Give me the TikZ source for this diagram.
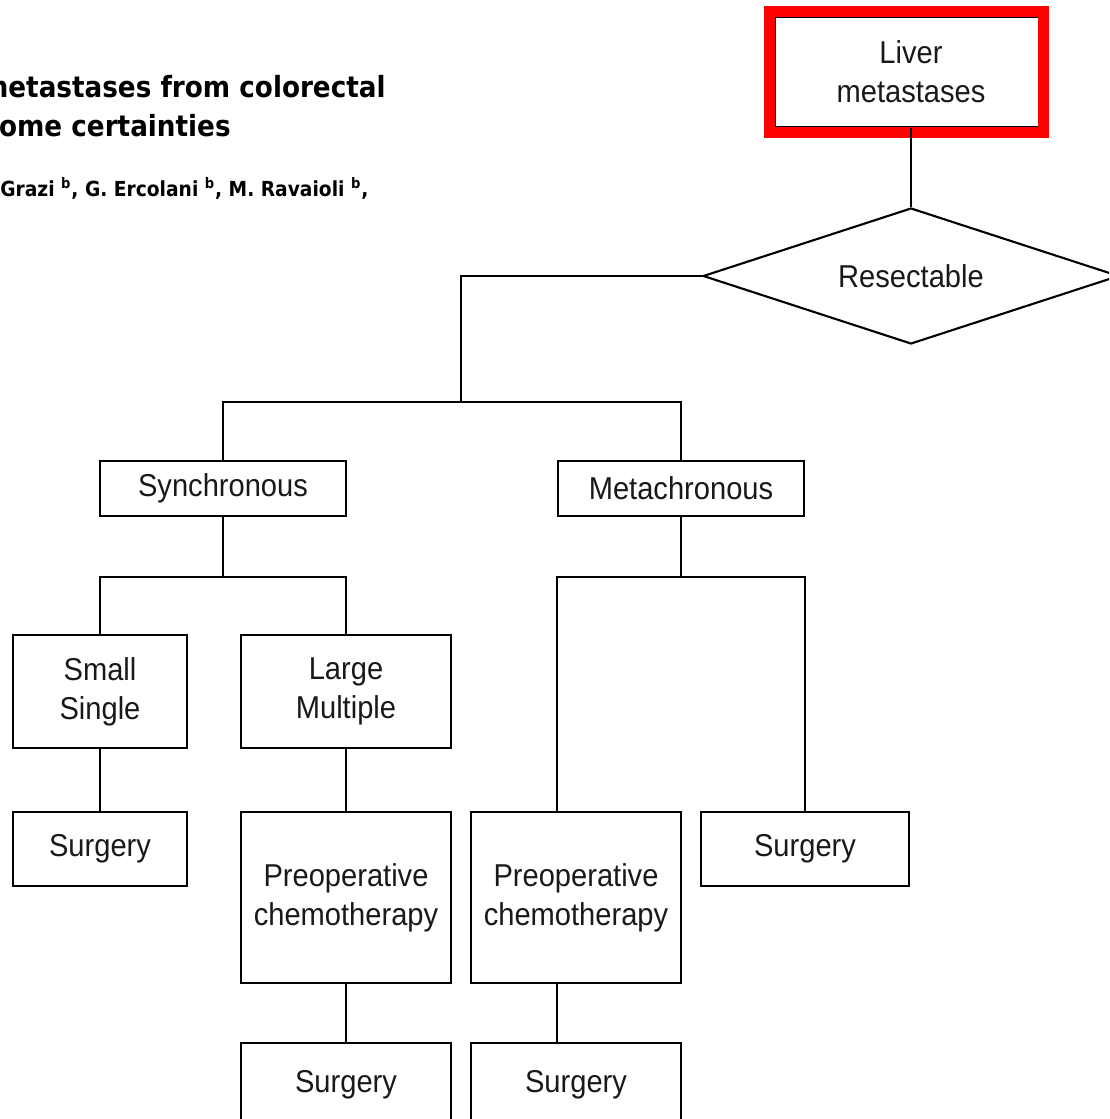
\documentclass[tikz,border=0pt]{standalone}
\usepackage{fontspec}
\newfontfamily\chartfont{Liberation Sans}[FakeStretch=0.92]
\newfontfamily\paperfont{DejaVu Sans}[FakeStretch=0.9]
\usetikzlibrary{shapes.geometric}

\begin{document}
\begin{tikzpicture}[x=0.02cm, y=-0.02cm,
  box/.style={draw, line width=1.2pt, align=center, inner sep=2pt, text=black!90, font=\chartfont\fontsize{18}{22}\selectfont},
  decision/.style={diamond, draw, line width=1.2pt, aspect=3, inner sep=0pt, minimum width=8.32cm, minimum height=2.72cm, text=black!90, font=\chartfont\fontsize{18}{22}\selectfont},
  link/.style={line width=1.2pt},
  hl/.style={draw=red, line width=0.22cm},
  ttl/.style={anchor=base east, inner sep=0pt, font=\paperfont\bfseries\fontsize{16.6}{19}\selectfont},
  auth/.style={anchor=base west, inner sep=0pt, font=\paperfont\bfseries\fontsize{11.8}{13}\selectfont}]
\useasboundingbox (0,0) rectangle (1109,1119);
\fill[white] (0,0) rectangle (1109,1119);
\clip (0,0) rectangle (1109,1119);
% paper heading, cut at the left
\node[ttl] (title1) at (386,97) {metastases from colorectal};
\node[ttl] (title2) at (231,136) {ome certainties};
\node[auth] (authors) at (0,196) {Grazi \textsuperscript{b}, G. Ercolani \textsuperscript{b}, M. Ravaioli \textsuperscript{b},};
% flow chart
\node[box, minimum width=5.44cm, minimum height=2.2cm] (liver) at (911,72) {Liver\\metastases};
\node[decision] (resect) at (911,276) {Resectable};
\node[box, minimum width=4.92cm, minimum height=1.1cm] (sync) at (223,488.5) {Synchronous};
\node[box, minimum width=4.92cm, minimum height=1.1cm] (meta) at (681,488.5) {Metachronous};
\node[box, minimum width=3.48cm, minimum height=2.26cm] (small) at (100,691.5) {Small\\Single};
\node[box, minimum width=4.2cm, minimum height=2.26cm] (large) at (346,691.5) {Large\\Multiple};
\node[box, minimum width=3.48cm, minimum height=1.48cm] (surgA) at (100,849) {Surgery};
\node[box, minimum width=4.2cm, minimum height=3.42cm] (chemoA) at (346,897.5) {Preoperative\\chemotherapy};
\node[box, minimum width=4.2cm, minimum height=1.68cm] (surgB) at (346,1085) {Surgery};
\node[box, minimum width=4.2cm, minimum height=3.42cm] (chemoB) at (576,897.5) {Preoperative\\chemotherapy};
\node[box, minimum width=4.16cm, minimum height=1.48cm] (surgC) at (805,849) {Surgery};
\node[box, minimum width=4.2cm, minimum height=1.68cm] (surgD) at (576,1085) {Surgery};
\draw[hl] ([shift={(-4,-4.5)}]liver.north west) rectangle ([shift={(-5,4.5)}]liver.south east);
% connectors
\coordinate (split) at (461,402);
\coordinate (syncsplit) at (223,577);
\coordinate (metasplit) at (681,577);
\draw[link] (liver) -- (resect);
\draw[link] (resect.west) -| (split);
\draw[link] (sync.north) |- (split) -| (meta.north);
\draw[link] (sync) -- (syncsplit);
\draw[link] (small.north) |- (syncsplit) -| (large.north);
\draw[link] (small) -- (surgA);
\draw[link] (large) -- (chemoA);
\draw[link] (chemoA) -- (surgB);
\draw[link] (meta) -- (metasplit);
\draw[link] (meta.west |- chemoB.north) |- (metasplit) -| (surgC.north);
\draw[link] (meta.west |- chemoB.south) -- (meta.west |- surgD.north);
\end{tikzpicture}
\end{document}
